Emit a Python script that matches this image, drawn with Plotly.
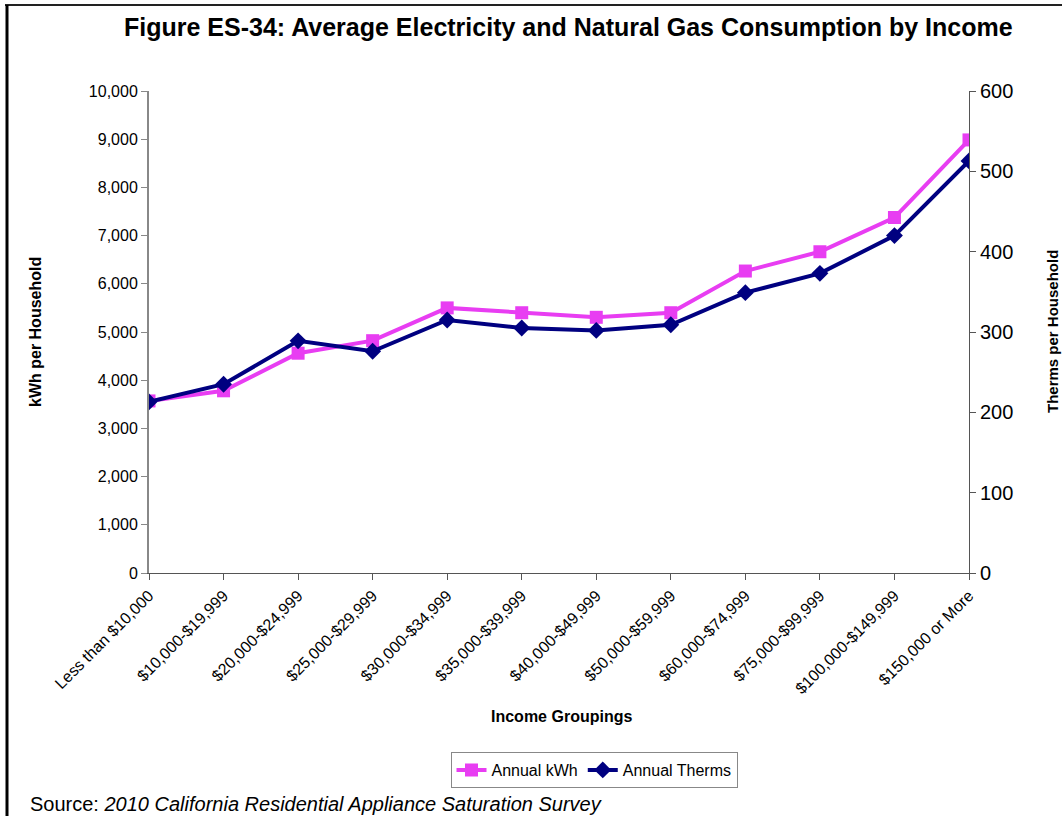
import plotly.graph_objects as go

# Income groupings (x categories)
income_groups = [
    "Less than $10,000", "$10,000-$19,999", "$20,000-$24,999", "$25,000-$29,999",
    "$30,000-$34,999", "$35,000-$39,999", "$40,000-$49,999", "$50,000-$59,999",
    "$60,000-$74,999", "$75,000-$99,999", "$100,000-$149,999", "$150,000 or More",
]

# Average annual electricity use (kWh per household)
annual_kwh = [3570, 3780, 4560, 4820, 5500, 5400, 5305, 5400, 6265, 6665, 7375, 8985]

# Average annual natural gas use (therms per household)
annual_therms = [213, 235, 289, 276, 315, 305, 302, 309, 349, 373, 420, 513]

W, H = 1062, 816
L, R, T, B = 149, 969, 91, 573   # plot-area edges in pixels


def px(x):
    return (x - L) / (R - L)


def py(y):
    return (B - y) / (B - T)


FONT = "Liberation Sans, Arial, sans-serif"
PINK = "#E83DF2"
NAVY = "#000080"

fig = go.Figure()

fig.add_trace(go.Scatter(
    x=income_groups, y=annual_kwh, name="Annual kWh",
    mode="lines+markers",
    line=dict(color=PINK, width=4),
    marker=dict(symbol="square", size=13, color=PINK),
    yaxis="y",
))

fig.add_trace(go.Scatter(
    x=income_groups, y=annual_therms, name="Annual Therms",
    mode="lines+markers",
    line=dict(color=NAVY, width=4),
    marker=dict(symbol="diamond", size=13, color=NAVY),
    yaxis="y2",
))

fig.update_layout(
    width=W, height=H,
    margin=dict(l=L, r=W - R, t=T, b=H - B),
    paper_bgcolor="white",
    plot_bgcolor="white",
    font=dict(family=FONT, color="black"),
    showlegend=True,
    legend=dict(
        orientation="h",
        x=px(594), xanchor="center",
        y=py(752), yanchor="top",
        bordercolor="#888888", borderwidth=1,
        font=dict(size=16, family=FONT),
        itemwidth=30,
        tracegroupgap=0,
    ),
    xaxis=dict(
        type="category",
        categoryorder="array", categoryarray=income_groups,
        range=[0, len(income_groups) - 1],
        showgrid=False, zeroline=False,
        showline=True, linecolor="#555555", linewidth=1,
        ticks="outside", ticklen=6, tickcolor="#555555",
        tickangle=-45,
        tickfont=dict(size=16, family=FONT),
    ),
    yaxis=dict(
        range=[0, 10000], dtick=1000, tickformat=",",
        showgrid=False, zeroline=False,
        showline=True, linecolor="#888888", linewidth=2,
        ticks="outside", ticklen=6, tickcolor="#888888",
        tickfont=dict(size=16, family=FONT),
    ),
    yaxis2=dict(
        overlaying="y", side="right",
        range=[0, 600], dtick=100,
        showgrid=False, zeroline=False,
        showline=True, linecolor="#555555", linewidth=1,
        ticks="outside", ticklen=6, tickcolor="#555555",
        tickfont=dict(size=20, family=FONT),
    ),
    annotations=[
        dict(text="<b>Figure ES-34: Average Electricity and Natural Gas Consumption by Income</b>",
             xref="paper", yref="paper", x=px(568), y=py(27),
             xanchor="center", yanchor="middle", showarrow=False,
             font=dict(size=25, family=FONT)),
        dict(text="<b>kWh per Household</b>",
             xref="paper", yref="paper", x=px(35), y=0.5,
             xanchor="center", yanchor="middle", textangle=-90, showarrow=False,
             font=dict(size=16, family=FONT)),
        dict(text="<b>Therms per Household</b>",
             xref="paper", yref="paper", x=px(1052), y=0.5,
             xanchor="center", yanchor="middle", textangle=-90, showarrow=False,
             font=dict(size=15, family=FONT)),
        dict(text="<b>Income Groupings</b>",
             xref="paper", yref="paper", x=px(561), y=py(716),
             xanchor="center", yanchor="middle", showarrow=False,
             font=dict(size=16, family=FONT)),
        dict(text="Source: <i>2010 California Residential Appliance Saturation Survey</i>",
             xref="paper", yref="paper", x=px(28), y=py(804),
             xanchor="left", yanchor="middle", showarrow=False,
             font=dict(size=20, family=FONT)),
    ],
    shapes=[
        # page frame: top and left edges
        dict(type="line", xref="paper", yref="paper",
             x0=px(5), x1=px(1070), y0=py(5), y1=py(5),
             line=dict(color="#222222", width=2)),
        dict(type="line", xref="paper", yref="paper",
             x0=px(7), x1=px(7), y0=py(5), y1=py(830),
             line=dict(color="black", width=3)),
    ],
)

fig.write_html("out.html")
